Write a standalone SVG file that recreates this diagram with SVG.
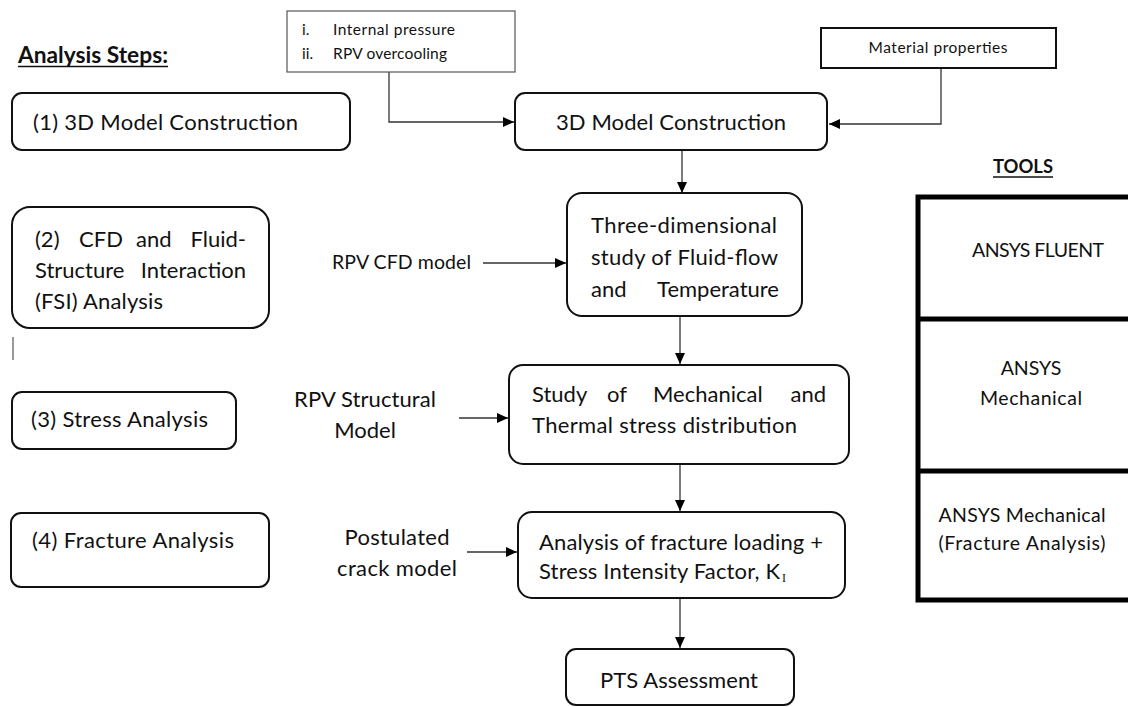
<svg xmlns="http://www.w3.org/2000/svg" width="1128" height="707" viewBox="0 0 1128 707">
<defs>
<style>
text{font-family:Lato,"Liberation Sans",sans-serif;fill:#111;}
.big{font-size:22px;}
.mid{font-size:19.5px;}
.sm{font-size:15.5px;}
.bold{font-weight:bold;}
.rbox{fill:#fff;stroke:#111;stroke-width:2;}
.sbox{fill:#fff;stroke:#555;stroke-width:1.2;}
.conn{fill:none;stroke:#333;stroke-width:1.3;}
.tool{fill:none;stroke:#000;stroke-width:5;}
</style>
<marker id="ah" markerWidth="11" markerHeight="10" refX="11" refY="5" orient="auto" markerUnits="userSpaceOnUse">
<path d="M0,0 L11,5 L0,10 z" fill="#000"/>
</marker>
</defs>
<rect width="1128" height="707" fill="#fff"/>

<g id="title-steps">
<text class="bold" x="18" y="63" font-size="22" textLength="150" lengthAdjust="spacingAndGlyphs">Analysis Steps:</text>
<line x1="18" y1="66.5" x2="168" y2="66.5" stroke="#111" stroke-width="1.6"/>
</g>

<g id="title-tools">
<text class="bold" x="993" y="173" font-size="18" textLength="60" lengthAdjust="spacingAndGlyphs">TOOLS</text>
<line x1="993" y1="177" x2="1053" y2="177" stroke="#111" stroke-width="1.4"/>
</g>

<g id="connectors">
<path class="conn" d="M389,72 V122 H514" marker-end="url(#ah)"/>
<path class="conn" d="M941,68 V124 H829" marker-end="url(#ah)"/>
<path class="conn" d="M682,150 V193" marker-end="url(#ah)"/>
<path class="conn" d="M483,263 H566" marker-end="url(#ah)"/>
<path class="conn" d="M680,316 V364" marker-end="url(#ah)"/>
<path class="conn" d="M459,418 H508" marker-end="url(#ah)"/>
<path class="conn" d="M680,464 V511" marker-end="url(#ah)"/>
<path class="conn" d="M467,552 H517" marker-end="url(#ah)"/>
<path class="conn" d="M680,598 V648" marker-end="url(#ah)"/>
</g>

<g id="step1">
<rect class="rbox" x="12" y="93" width="338" height="57" rx="10"/>
<text class="big" x="33" y="130" textLength="265" lengthAdjust="spacing">(1) 3D Model Construction</text>
</g>

<g id="step2">
<rect class="rbox" x="12" y="207" width="257" height="121" rx="18"/>
<text class="big" x="35" y="247">(2)</text>
<text class="big" x="79" y="247">CFD</text>
<text class="big" x="136" y="247">and</text>
<text class="big" x="246" y="247" text-anchor="end">Fluid-</text>
<text class="big" x="35" y="278">Structure</text>
<text class="big" x="246" y="278" text-anchor="end">Interaction</text>
<text class="big" x="35" y="309" textLength="128" lengthAdjust="spacing">(FSI) Analysis</text>
</g>
<line x1="13" y1="337" x2="13" y2="360" stroke="#333" stroke-width="1"/>

<g id="step3">
<rect class="rbox" x="12" y="392" width="224" height="57" rx="10"/>
<text class="big" x="31" y="427" textLength="177" lengthAdjust="spacing">(3) Stress Analysis</text>
</g>

<g id="step4">
<rect class="rbox" x="11" y="513" width="258" height="74" rx="10"/>
<text class="big" x="32" y="548" textLength="202" lengthAdjust="spacing">(4) Fracture Analysis</text>
</g>

<g id="inputs-loads">
<rect class="sbox" x="287" y="11" width="228" height="61"/>
<text class="sm" x="302" y="35">i.</text>
<text class="sm" x="333" y="35" textLength="122" lengthAdjust="spacing">Internal pressure</text>
<text class="sm" x="302" y="59">ii.</text>
<text class="sm" x="333" y="59" textLength="114" lengthAdjust="spacing">RPV overcooling</text>
</g>

<g id="material-properties">
<rect class="rbox" x="821" y="28" width="235" height="40"/>
<text class="sm" x="938" y="53" text-anchor="middle" textLength="139" lengthAdjust="spacing">Material properties</text>
</g>

<g id="model-construction">
<rect class="rbox" x="515" y="93" width="312" height="57" rx="10"/>
<text class="big" x="671" y="130" text-anchor="middle" textLength="230" lengthAdjust="spacing">3D Model Construction</text>
</g>

<g id="rpv-cfd-model">
<text class="mid" x="332" y="269" textLength="139" lengthAdjust="spacing">RPV CFD model</text>
</g>

<g id="fluid-flow-study">
<rect class="rbox" x="567" y="193" width="235" height="123" rx="15"/>
<text class="big" x="591" y="233" textLength="186" lengthAdjust="spacing">Three-dimensional</text>
<text class="big" x="591" y="265" textLength="187" lengthAdjust="spacing">study of Fluid-flow</text>
<text class="big" x="591" y="297">and</text>
<text class="big" x="779" y="297" text-anchor="end">Temperature</text>
</g>

<g id="rpv-structural-model">
<text class="big" x="365" y="407" text-anchor="middle" textLength="142" lengthAdjust="spacing">RPV Structural</text>
<text class="big" x="365" y="438" text-anchor="middle">Model</text>
</g>

<g id="stress-study">
<rect class="rbox" x="509" y="365" width="340" height="99" rx="14"/>
<text class="big" x="532" y="402">Study</text>
<text class="big" x="607" y="402">of</text>
<text class="big" x="653" y="402">Mechanical</text>
<text class="big" x="826" y="402" text-anchor="end">and</text>
<text class="big" x="532" y="433" textLength="265" lengthAdjust="spacing">Thermal stress distribution</text>
</g>

<g id="postulated-crack-model">
<text class="big" x="397" y="545" text-anchor="middle" textLength="105" lengthAdjust="spacing">Postulated</text>
<text class="big" x="397" y="576" text-anchor="middle" textLength="120" lengthAdjust="spacing">crack model</text>
</g>

<g id="fracture-analysis">
<rect class="rbox" x="518" y="512" width="327" height="86" rx="14"/>
<text class="big" x="539" y="550" textLength="284" lengthAdjust="spacing">Analysis of fracture loading +</text>
<text class="big" x="539" y="579" textLength="241" lengthAdjust="spacing">Stress Intensity Factor, K</text>
<text x="782" y="582" font-size="12" style="font-family:'Liberation Serif',serif">I</text>
</g>

<g id="pts-assessment">
<rect class="rbox" x="566" y="649" width="228" height="56" rx="10"/>
<text class="big" x="679" y="688" text-anchor="middle" textLength="158" lengthAdjust="spacing">PTS Assessment</text>
</g>

<g id="tools-table">
<rect class="tool" x="918" y="197" width="240" height="403"/>
<line class="tool" x1="918" y1="319" x2="1128" y2="319"/>
<line class="tool" x1="918" y1="471" x2="1128" y2="471"/>
<text class="mid" x="1038" y="257" text-anchor="middle" textLength="132" lengthAdjust="spacing">ANSYS FLUENT</text>
<text class="mid" x="1031" y="375" text-anchor="middle">ANSYS</text>
<text class="mid" x="1031" y="405" text-anchor="middle" textLength="102" lengthAdjust="spacing">Mechanical</text>
<text class="mid" x="1022" y="522" text-anchor="middle" textLength="167" lengthAdjust="spacing">ANSYS Mechanical</text>
<text class="mid" x="1022" y="550" text-anchor="middle" textLength="167" lengthAdjust="spacing">(Fracture Analysis)</text>
</g>
</svg>
